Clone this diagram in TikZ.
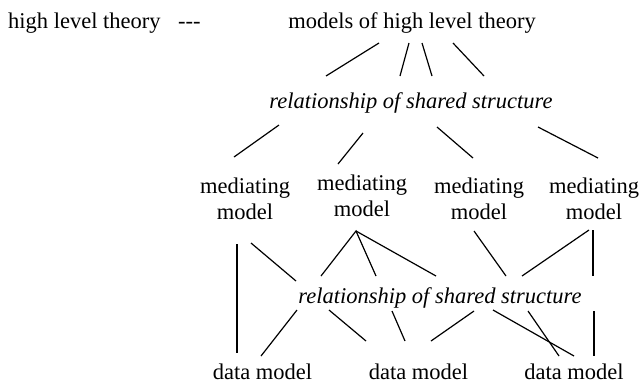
\documentclass[tikz,border=0pt]{standalone}
\usepackage{fontspec}
\setmainfont{Liberation Serif}

\begin{document}
\begin{tikzpicture}[x=1pt, y=-1pt, font=\fontsize{22.5}{26}\selectfont]
%% one unit is one pixel of the 642x384 figure, y runs downwards
%% base of a two-line node is the baseline of its last line
\tikzstyle{lbl}=[inner sep=0pt, anchor=base]
\tikzstyle{mediator}=[lbl, align=center]
\tikzstyle{link}=[line width=1.2pt]
\useasboundingbox (0,0) rectangle (642,384);
%% top row
\node[lbl, anchor=base west] at (8,28) (theory) {high level theory};
\node[lbl, anchor=base west] at (178,28) (dashes) {-{}-{}-};
\node[lbl] at (412,28) (models) {models of high level theory};
%% first shared structure
\node[lbl] at (411,108) (shared1) {\textit{relationship of shared structure}};
%% mediating models
\node[mediator] at (245,219) (med1) {mediating\\model};
\node[mediator] at (362,216) (med2) {mediating\\model};
\node[mediator] at (479,219) (med3) {mediating\\model};
\node[mediator] at (594,219) (med4) {mediating\\model};
%% second shared structure
\node[lbl] at (440,303) (shared2) {\textit{relationship of shared structure}};
%% data models
\node[lbl] at (262.5,379) (data1) {data model};
\node[lbl] at (418.5,379) (data2) {data model};
\node[lbl] at (574,379) (data3) {data model};
%% models -- shared1
\draw[link] ([shift={(-33,15)}]models.base) -- ([shift={(-85,-32)}]shared1.base);
\draw[link] ([shift={(-3,15)}]models.base) -- ([shift={(-11,-32)}]shared1.base);
\draw[link] ([shift={(10,15)}]models.base) -- ([shift={(21,-32)}]shared1.base);
\draw[link] ([shift={(41,15)}]models.base) -- ([shift={(73,-32)}]shared1.base);
%% shared1 -- mediating models
\draw[link] ([shift={(-132,17)}]shared1.base) -- ([shift={(-11,-62)}]med1.base);
\draw[link] ([shift={(-48,25)}]shared1.base) -- ([shift={(-24,-52)}]med2.base);
\draw[link] ([shift={(26,19)}]shared1.base) -- ([shift={(-6,-61)}]med3.base);
\draw[link] ([shift={(127,19)}]shared1.base) -- ([shift={(4,-61)}]med4.base);
%% mediating models -- shared2
\draw[link] ([shift={(6,24)}]med1.base) -- ([shift={(-144,-22)}]shared2.base);
\draw[link] ([shift={(-119,-27)}]shared2.base) -- ([shift={(-6,15)}]med2.base)
  -- ([shift={(-64,-27)}]shared2.base);
\draw[link] ([shift={(-6,15)}]med2.base) -- ([shift={(-4,-27)}]shared2.base);
\draw[link] ([shift={(-5,12)}]med3.base) -- ([shift={(66,-27)}]shared2.base);
\draw[link] ([shift={(-5,11)}]med4.base) -- ([shift={(82,-27)}]shared2.base);
%% shared2 -- data models
\draw[link] ([shift={(-143,7)}]shared2.base) -- ([shift={(-1.5,-23)}]data1.base);
\draw[link] ([shift={(-111,7)}]shared2.base) -- ([shift={(-52.5,-38)}]data2.base);
\draw[link] ([shift={(-48,8)}]shared2.base) -- ([shift={(-13.5,-38)}]data2.base);
\draw[link] ([shift={(34,8)}]shared2.base) -- ([shift={(12.5,-38)}]data2.base);
\draw[link] ([shift={(53,7)}]shared2.base) -- ([shift={(0,-23)}]data3.base);
\draw[link] ([shift={(88,8)}]shared2.base) -- ([shift={(-15,-23)}]data3.base);
%% direct links past shared2
\draw[link] ([shift={(-8,25)}]med1.base) -- ([shift={(-25.5,-26)}]data1.base);
\draw[link] ([shift={(-1,11)}]med4.base) -- ([shift={(153,-27)}]shared2.base);
\draw[link] ([shift={(154,8)}]shared2.base) -- ([shift={(20,-23)}]data3.base);
\end{tikzpicture}
\end{document}
